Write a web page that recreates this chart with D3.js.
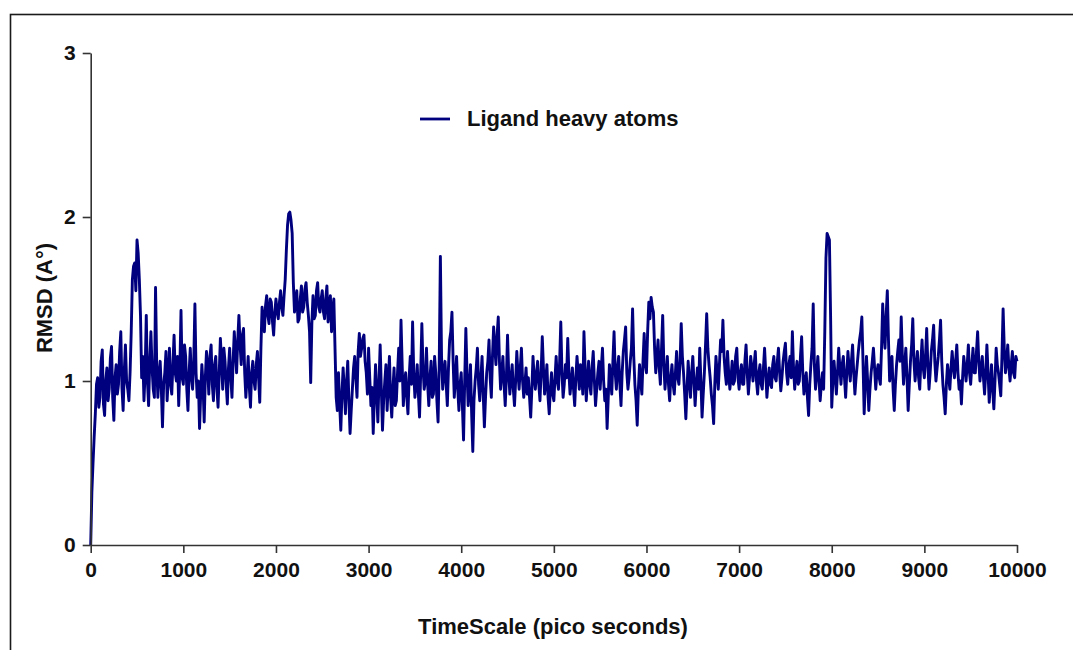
<!DOCTYPE html>
<html>
<head>
<meta charset="utf-8">
<script src="https://cdn.jsdelivr.net/npm/d3@7/dist/d3.min.js"></script>
<style>
  html, body { margin: 0; padding: 0; background: #ffffff; }
  svg { display: block; }
  text { font-family: "Liberation Sans", Arial, Helvetica, sans-serif; font-weight: bold; fill: #111; }
</style>
</head>
<body>
<svg id="chart" width="1073" height="650"></svg>
<script>
// Ligand heavy-atom RMSD trajectory, evenly sampled from 0 to 10000 ps (one row = 500 ps)
const timeStart = 0;
const timeEnd = 10000;
const rmsd = [
  0.00, 0.32, 0.50, 0.66, 0.80, 0.98, 1.02, 0.84, 0.90, 1.12, 1.19, 0.86, 0.79, 1.00, 1.08, 0.88, 0.95, 1.14, 1.21, 0.90,
  0.76, 1.02, 1.10, 0.92, 0.98, 1.18, 1.30, 0.96, 0.82, 1.06, 1.22, 1.00, 0.95, 0.88, 1.05, 1.30, 1.62, 1.70, 1.72, 1.55,

  1.86, 1.78, 1.62, 1.40, 1.02, 1.15, 0.88, 1.05, 1.40, 1.00, 0.85, 1.12, 1.30, 1.08, 0.95, 0.90, 1.57, 1.10, 0.90, 1.04,
  1.12, 0.95, 0.72, 0.98, 1.05, 1.18, 0.88, 1.02, 1.20, 0.98, 0.92, 1.10, 1.28, 1.05, 1.00, 1.15, 0.85, 1.08, 1.43, 1.02,

  0.98, 1.22, 1.15, 0.95, 0.82, 1.05, 1.20, 1.02, 0.95, 1.12, 1.47, 1.05, 0.90, 1.00, 0.71, 0.92, 1.10, 0.98, 0.75, 1.02,
  1.18, 1.08, 0.92, 1.15, 1.22, 0.98, 0.88, 1.10, 1.15, 0.95, 0.84, 1.05, 1.26, 1.12, 0.95, 1.20, 1.12, 0.98, 0.86, 1.08,

  1.20, 1.02, 0.90, 1.12, 1.30, 1.18, 1.05, 1.25, 1.40, 1.22, 1.10, 1.28, 1.32, 1.05, 0.90, 1.02, 1.15, 0.96, 0.84, 1.05,
  1.12, 1.00, 0.95, 1.10, 1.18, 1.02, 0.87, 1.20, 1.45, 1.38, 1.30, 1.46, 1.52, 1.40, 1.35, 1.50, 1.48, 1.36, 1.28, 1.42,

  1.50, 1.42, 1.38, 1.48, 1.55, 1.45, 1.40, 1.52, 1.62, 1.80, 1.95, 2.02, 2.03, 1.98, 1.90, 1.60, 1.42, 1.48, 1.55, 1.36,
  1.38, 1.50, 1.58, 1.42, 1.45, 1.56, 1.60, 1.48, 1.40, 1.30, 0.99, 1.35, 1.52, 1.38, 1.40, 1.55, 1.60, 1.45, 1.42, 1.50,

  1.55, 1.42, 1.38, 1.50, 1.58, 1.36, 1.45, 1.52, 1.30, 1.44, 1.50, 1.20, 0.90, 0.82, 1.05, 0.86, 0.70, 0.92, 1.08, 0.95,
  0.80, 1.00, 1.12, 0.88, 0.68, 0.82, 0.95, 1.08, 1.15, 1.02, 0.90, 1.18, 1.29, 1.15, 1.20, 1.26, 1.28, 1.12, 1.05, 0.92,

  1.20, 1.02, 0.85, 0.96, 0.68, 0.90, 1.10, 0.92, 0.75, 1.00, 1.22, 0.95, 0.70, 0.88, 1.00, 1.10, 0.82, 0.98, 1.15, 0.90,
  0.78, 0.95, 1.08, 0.85, 0.88, 1.05, 1.20, 1.00, 1.37, 1.10, 0.85, 0.98, 1.05, 0.90, 0.80, 1.02, 1.15, 0.98, 1.36, 1.05,

  0.90, 0.98, 1.10, 0.92, 0.78, 1.05, 1.35, 1.08, 0.95, 1.00, 1.20, 0.98, 0.85, 1.02, 1.12, 0.90, 0.92, 1.15, 1.05, 0.88,
  0.75, 1.10, 1.76, 1.15, 0.95, 1.05, 1.12, 0.98, 0.85, 1.08, 1.25, 1.30, 1.42, 1.12, 0.90, 1.02, 1.15, 0.95, 0.82, 0.98,

  1.05, 0.85, 0.64, 1.00, 1.32, 1.05, 0.85, 0.96, 1.10, 0.80, 0.57, 0.88, 1.00, 1.08, 1.20, 0.98, 0.88, 1.02, 1.15, 0.92,
  0.72, 0.90, 1.05, 1.12, 1.25, 1.02, 0.90, 1.15, 1.33, 1.20, 1.10, 1.28, 1.39, 1.12, 0.95, 1.05, 1.15, 0.98, 0.85, 1.02,

  1.28, 1.05, 0.92, 1.02, 1.10, 0.95, 0.85, 1.00, 1.18, 1.05, 0.95, 1.08, 1.20, 1.00, 0.90, 0.98, 1.08, 0.92, 1.02, 0.90,
  0.78, 0.95, 1.15, 1.02, 0.95, 1.05, 1.12, 0.98, 0.88, 1.05, 1.27, 1.08, 0.92, 1.00, 1.10, 0.90, 0.80, 0.95, 1.05, 0.92,

  0.88, 1.02, 1.15, 1.00, 0.95, 1.12, 1.36, 1.05, 0.90, 0.98, 1.10, 1.02, 1.26, 1.05, 0.92, 1.00, 1.08, 0.95, 0.85, 1.02,
  1.15, 1.05, 0.95, 1.10, 1.05, 0.92, 1.30, 1.08, 0.88, 1.00, 1.12, 0.98, 0.92, 1.08, 1.18, 1.00, 0.85, 0.95, 1.05, 1.12,

  0.95, 1.08, 1.20, 1.00, 0.88, 0.95, 0.71, 0.90, 1.10, 1.02, 0.92, 1.12, 1.30, 1.05, 0.95, 1.08, 1.15, 0.98, 0.85, 1.05,
  1.18, 1.25, 1.33, 1.05, 0.95, 1.02, 1.12, 1.20, 1.44, 1.15, 0.98, 0.88, 0.73, 0.95, 1.10, 1.00, 0.92, 1.12, 1.29, 1.10,

  1.05, 1.30, 1.48, 1.38, 1.51, 1.45, 1.42, 1.20, 1.05, 1.15, 1.25, 1.08, 0.98, 1.20, 1.40, 1.10, 0.95, 1.05, 1.15, 0.98,
  0.88, 1.02, 1.10, 0.98, 0.92, 1.05, 1.18, 1.02, 0.98, 1.12, 1.35, 1.15, 1.05, 0.92, 0.77, 0.95, 1.12, 1.00, 0.90, 1.05,

  1.15, 1.00, 0.85, 0.98, 1.08, 0.95, 1.20, 1.00, 0.78, 0.92, 1.05, 1.22, 1.41, 1.20, 1.10, 1.02, 0.92, 0.85, 0.74, 0.98,
  1.15, 1.05, 0.95, 1.10, 1.25, 1.18, 1.37, 1.15, 1.05, 0.98, 1.18, 1.05, 0.95, 1.02, 1.12, 0.98, 1.00, 1.15, 1.20, 1.02,

  0.95, 1.05, 1.10, 0.98, 0.98, 1.12, 1.22, 1.05, 0.92, 1.02, 1.15, 1.08, 1.00, 1.10, 1.18, 1.00, 0.92, 1.05, 1.10, 0.98,
  0.95, 1.08, 1.20, 1.05, 0.90, 1.00, 1.08, 0.98, 0.96, 1.10, 1.15, 1.02, 1.00, 1.12, 1.20, 1.05, 0.94, 1.02, 1.12, 1.18,

  1.23, 1.05, 0.98, 1.10, 1.15, 1.02, 1.30, 1.08, 0.95, 1.05, 1.12, 0.98, 1.00, 1.15, 1.27, 1.05, 0.92, 1.00, 1.05, 0.90,
  0.79, 0.98, 1.10, 1.20, 1.47, 1.10, 0.95, 1.05, 1.15, 1.00, 0.88, 0.98, 1.05, 0.95, 1.30, 1.75, 1.90, 1.88, 1.86, 1.40,

  0.84, 1.00, 1.12, 1.02, 0.92, 1.05, 1.20, 1.08, 0.98, 1.10, 1.15, 1.02, 0.90, 1.05, 1.18, 1.08, 1.00, 1.12, 1.22, 1.05,
  0.92, 1.02, 1.10, 1.18, 1.25, 1.30, 1.39, 1.12, 0.80, 0.98, 1.15, 1.00, 0.82, 0.95, 1.05, 1.12, 1.20, 1.08, 0.95, 1.05,

  1.10, 1.02, 0.98, 1.20, 1.47, 1.30, 1.20, 1.40, 1.55, 1.25, 1.00, 1.08, 1.15, 0.95, 0.82, 0.98, 1.10, 1.18, 1.25, 1.12,
  1.39, 1.15, 0.98, 1.10, 1.20, 1.02, 0.82, 0.98, 1.12, 1.22, 1.38, 1.12, 1.00, 1.10, 1.18, 1.02, 0.95, 1.12, 1.25, 1.08,

  1.02, 1.15, 1.32, 1.10, 0.95, 1.05, 1.18, 1.25, 1.34, 1.12, 1.00, 1.08, 1.15, 1.25, 1.37, 1.12, 0.98, 0.90, 0.80, 0.98,
  1.10, 1.02, 0.95, 1.08, 1.18, 1.08, 1.02, 1.12, 1.22, 1.05, 0.95, 1.00, 0.86, 1.02, 1.15, 1.08, 1.00, 1.10, 1.22, 1.05,

  0.98, 1.10, 1.20, 1.05, 1.05, 1.18, 1.30, 1.12, 1.00, 1.08, 1.15, 1.02, 0.92, 1.05, 1.22, 1.05, 0.87, 0.98, 1.10, 0.95,
  0.83, 1.00, 1.20, 1.10, 1.05, 0.98, 0.91, 1.15, 1.44, 1.20, 1.05, 1.12, 1.22, 1.08, 1.00, 1.10, 1.18, 1.05, 1.02, 1.15,

  1.12
];

const xTicks = [0, 1000, 2000, 3000, 4000, 5000, 6000, 7000, 8000, 9000, 10000];
const yTicks = [0, 1, 2, 3];
const seriesName = "Ligand heavy atoms";
const xTitle = "TimeScale (pico seconds)";
const yTitle = "RMSD (A°)";

const svg = d3.select("#chart");
const lineColor = "#00007f";
const axisColor = "#333333";

// outer frame
svg.append("rect")
  .attr("x", 10.5).attr("y", 14.5)
  .attr("width", 1080).attr("height", 650)
  .attr("fill", "none").attr("stroke", "#1a1a1a").attr("stroke-width", 1.6);

const x = d3.scaleLinear().domain([timeStart, timeEnd]).range([90.7, 1017]);
const y = d3.scaleLinear().domain([0, 3]).range([545, 53]);

const step = (timeEnd - timeStart) / (rmsd.length - 1);
const data = rmsd.map((v, i) => ({ t: timeStart + i * step, v }));

// data trace
svg.append("path")
  .datum(data)
  .attr("fill", "none")
  .attr("stroke", lineColor)
  .attr("stroke-width", 2.9)
  .attr("stroke-linejoin", "round")
  .attr("d", d3.line().x(d => x(d.t)).y(d => y(d.v)));

// axes
const xAxis = svg.append("g")
  .attr("transform", "translate(0,545)")
  .call(d3.axisBottom(x).tickValues(xTicks).tickFormat(d3.format("d")).tickSize(8).tickPadding(9).tickSizeOuter(0));
const yAxis = svg.append("g")
  .attr("transform", "translate(90.7,0)")
  .call(d3.axisLeft(y).tickValues(yTicks).tickFormat(d3.format("d")).tickSize(8).tickPadding(7).tickSizeOuter(0));

[xAxis, yAxis].forEach(g => {
  g.select(".domain").attr("stroke", axisColor).attr("stroke-width", 1.6);
  g.selectAll(".tick line").attr("stroke", axisColor).attr("stroke-width", 1.6);
  g.selectAll(".tick text")
    .attr("fill", "#111")
    .style("font-family", '"Liberation Sans", Arial, sans-serif')
    .style("font-weight", "bold")
    .style("font-size", "21px");
});

// axis titles
svg.append("text")
  .attr("x", 553).attr("y", 634)
  .attr("text-anchor", "middle")
  .style("font-size", "22px")
  .text(xTitle);

svg.append("text")
  .attr("transform", "translate(52,298) rotate(-90)")
  .attr("text-anchor", "middle")
  .style("font-size", "22px")
  .text(yTitle);

// legend
svg.append("line")
  .attr("x1", 420).attr("x2", 450)
  .attr("y1", 119).attr("y2", 119)
  .attr("stroke", lineColor).attr("stroke-width", 2.8);
svg.append("text")
  .attr("x", 467).attr("y", 126)
  .style("font-size", "22px")
  .text(seriesName);
</script>
</body>
</html>
